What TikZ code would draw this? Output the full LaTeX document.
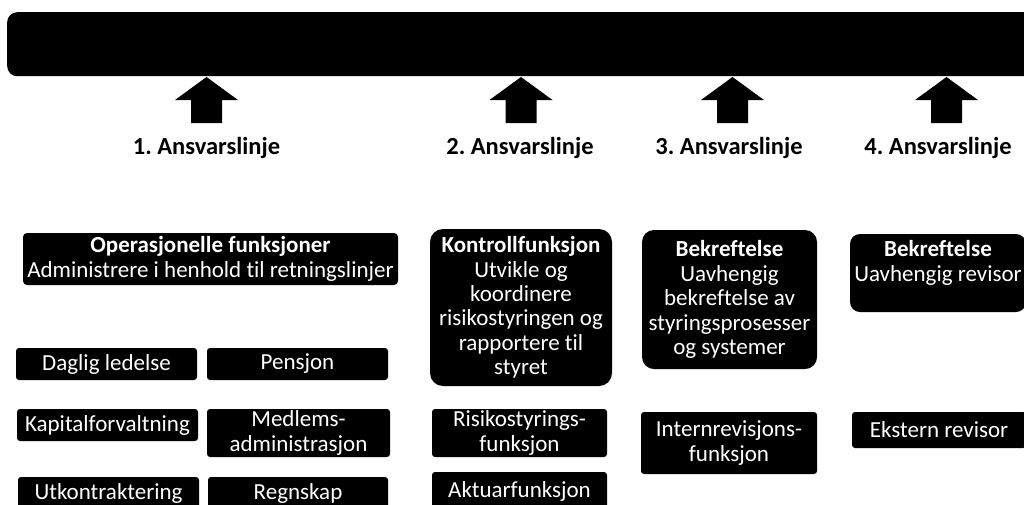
\documentclass[tikz,border=0pt]{standalone}
\usepackage{fontspec}
\setmainfont{Carlito}[Ligatures=NoCommon]
\frenchspacing
\begin{document}
\begin{tikzpicture}[x=1pt,y=-1pt,
  box/.style={fill=black,text=white,align=center,inner sep=0pt,
    font=\fontsize{23}{24.4}\selectfont},
  small/.style={box,rounded corners=3pt},
  hdr/.style={font=\fontsize{24.5}{28}\selectfont\bfseries,inner sep=0pt},
  blockarrow/.style={fill=black}]
\useasboundingbox (0,0) rectangle (1024,504);
\clip (0,0) rectangle (1024,504);
% top bar
\node[fill=black,rounded corners=10pt,inner sep=0pt,anchor=north west,
  minimum width=1040pt,minimum height=64pt] (bar) at (7,12) {};
% block arrows
\foreach \cx in {206.5,521,732.5,946.5}
  \fill[blockarrow] (\cx,77) -- (\cx+31.5,100) -- (\cx+15.5,100) -- (\cx+15.5,123)
    -- (\cx-15.5,123) -- (\cx-15.5,100) -- (\cx-31.5,100) -- cycle;
% line labels
\node[hdr] (l1) at (206.5,148) {1. Ansvarslinje};
\node[hdr] (l2) at (520,148) {2. Ansvarslinje};
\node[hdr] (l3) at (729,148) {3. Ansvarslinje};
\node[hdr] (l4) at (938,148) {4. Ansvarslinje};
% main boxes
\node[box,rounded corners=4pt,minimum width=375pt,minimum height=52pt] (oper) at (210.5,259)
  {\textbf{Operasjonelle funksjoner}\\Administrere i henhold til retningslinjer};
\node[box,rounded corners=13pt,minimum width=182pt,minimum height=157pt] (kontroll) at (521,307.5)
  {\textbf{Kontrollfunksjon}\\Utvikle og\\koordinere\\risikostyringen og\\rapportere til\\styret};
\node[box,rounded corners=12pt,minimum width=175pt,minimum height=139pt] (bek3) at (729.5,299.5)
  {\textbf{Bekreftelse}\\Uavhengig\\bekreftelse av\\styringsprosesser\\og systemer};
\node[box,rounded corners=10pt,minimum width=176pt,minimum height=78pt] (bek4) at (938,273) {};
\node[box,fill=none] (bek4txt) at (938,263) {\textbf{Bekreftelse}\\Uavhengig revisor};
% sub boxes
\node[small,minimum width=181pt,minimum height=32pt] (daglig) at (106.5,364) {Daglig ledelse};
\node[small,minimum width=181pt,minimum height=32pt] (pensjon) at (297.5,364) {Pensjon};
\node[small,minimum width=181pt,minimum height=32pt] (kapital) at (107.5,425) {Kapitalforvaltning};
\node[small,minimum width=183pt,minimum height=48pt] (medlem) at (298.5,433) {Medlems-\\administrasjon};
\node[small,minimum width=181pt,minimum height=32pt] (utkon) at (108.5,493) {Utkontraktering};
\node[small,minimum width=180pt,minimum height=32pt] (regnskap) at (298,493) {Regnskap};
\node[small,minimum width=175pt,minimum height=48pt] (risiko) at (519.5,433) {Risikostyrings-\\funksjon};
\node[small,minimum width=175pt,minimum height=38pt] (aktuar) at (519.5,491) {Aktuarfunksjon};
\node[small,minimum width=176pt,minimum height=62pt] (intern) at (729,443) {Internrevisjons-\\funksjon};
\node[small,minimum width=174pt,minimum height=36pt] (ekstern) at (939,430) {Ekstern revisor};
\end{tikzpicture}
\end{document}
